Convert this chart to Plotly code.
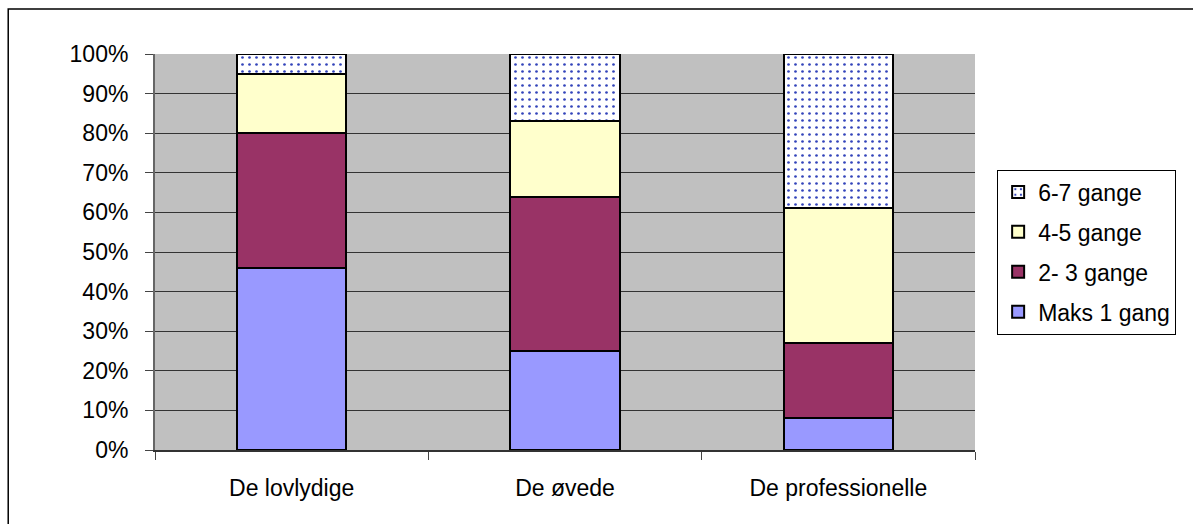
import plotly.graph_objects as go

categories = ["De lovlydige", "De øvede", "De professionelle"]
series_names = ["Maks 1 gang", "2- 3 gange", "4-5 gange", "6-7 gange"]
maks1 = [46, 25, 8]
gange23 = [34, 39, 19]
gange45 = [15, 19, 34]
gange67 = [5, 17, 39]
y_tick_vals = [0, 10, 20, 30, 40, 50, 60, 70, 80, 90, 100]
y_tick_text = [f"{v}%" for v in y_tick_vals]

values = [maks1, gange23, gange45, gange67]
colors = ["#9999FF", "#993366", "#FFFFCC", "#FFFFFF"]

fig = go.Figure()
for i, (name, vals, col) in enumerate(zip(series_names, values, colors)):
    marker = dict(color=col, line=dict(color="black", width=2))
    if name == "6-7 gange":
        marker["pattern"] = dict(shape=".", fgcolor="#3344BB", bgcolor="#FFFFFF",
                                 size=7, solidity=0.12, fillmode="replace")
    fig.add_trace(go.Bar(x=categories, y=vals, name=name, marker=marker,
                         legendgroup=name, legendrank=1000 - i))

fig.update_layout(
    barmode="stack",
    bargap=0.6,
    width=1193, height=524,
    margin=dict(l=155, r=218, t=54, b=74),
    paper_bgcolor="white",
    plot_bgcolor="#C0C0C0",
    font=dict(family="Liberation Sans, Arial", size=23, color="black"),
    legend=dict(
        traceorder="grouped",
        x=1.027, xanchor="left", y=0.5, yanchor="middle",
        bordercolor="black", borderwidth=1, bgcolor="white",
        font=dict(size=23), itemwidth=30, tracegroupgap=7,
    ),
    shapes=[dict(type="rect", xref="paper", yref="paper",
                 x0=-0.179, x1=1.5, y0=-0.3, y1=1.1136,
                 line=dict(color="black", width=1.5), fillcolor="rgba(0,0,0,0)", layer="below")],
)
fig.update_yaxes(range=[0, 100], tickvals=y_tick_vals, ticktext=y_tick_text,
                 showgrid=True, gridcolor="#333333", gridwidth=1,
                 ticks="outside", ticklen=8, tickcolor="#444444",
                 ticklabelstandoff=12,
                 showline=True, linecolor="#666666", linewidth=2, zeroline=False)
fig.update_xaxes(showline=True, linecolor="#333333", linewidth=2,
                 tickson="boundaries", showgrid=False,
                 ticks="outside", ticklen=8, tickcolor="#444444",
                 ticklabelstandoff=16)

fig.write_html("out.html", config={"displayModeBar": False},
               post_script="document.body.style.margin='0';")
